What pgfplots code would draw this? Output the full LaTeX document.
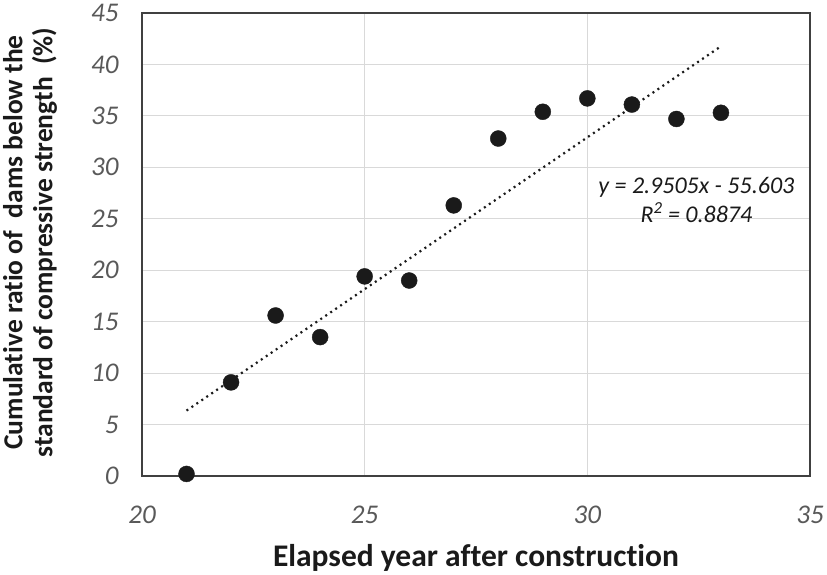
\documentclass[border=0pt]{standalone}
\usepackage{pgfplots}
\pgfplotsset{compat=1.18}
\usepackage{fontspec}
\setmainfont{Carlito}[Ligatures=NoCommon]
\definecolor{tickgray}{HTML}{595959}
\definecolor{gridgray}{HTML}{D9D9D9}
\definecolor{boxgray}{HTML}{404040}
\definecolor{ptblack}{HTML}{1A1A1A}
\begin{document}
\begin{tikzpicture}
\useasboundingbox (-142bp,-99bp) rectangle (685bp,476bp);
\begin{axis}[
  at={(0,0)}, anchor=south west,
  scale only axis,
  width=668bp, height=463bp,
  xmin=20, xmax=35, ymin=0, ymax=45,
  xtick={20,25,30,35}, ytick={0,5,...,45},
  grid=major,
  major grid style={gridgray, line width=1.2bp},
  axis line style={boxgray, line width=1.4bp},
  major tick length=0pt,
  tick label style={font=\fontsize{27bp}{29bp}\selectfont\itshape, text=tickgray},
  /pgf/number format/assume math mode=true,
  xticklabel style={yshift=-26bp},
  yticklabel style={xshift=-20bp},
  xlabel={Elapsed year after construction},
  xlabel style={font=\fontsize{31.5bp}{33bp}\selectfont\bfseries, text=ptblack, yshift=-14bp},
  every axis y label/.style={at={(axis description cs:0,0.5)}, xshift=-112bp, yshift=2bp, rotate=90, anchor=center},
  ylabel={Cumulative ratio of\ \ dams below the\\standard of compressive strength\ \ (\%)},
  ylabel style={font=\fontsize{27.5bp}{30bp}\selectfont\bfseries, text=ptblack, align=center},
]
\addplot[only marks, mark=*, mark size=8bp, mark options={fill=ptblack, draw=ptblack}] coordinates {
(21,0.2) (22,9.1) (23,15.6) (24,13.5) (25,19.4) (26,19.0) (27,26.3)
(28,32.8) (29,35.4) (30,36.7) (31,36.1) (32,34.7) (33,35.3)
};
\addplot[draw=ptblack, line width=2.2bp, dash pattern=on 2bp off 4bp] coordinates {
(21,6.3575) (33,41.7635)
};
\node[font=\fontsize{24bp}{29bp}\selectfont\itshape, text=ptblack, align=center] at (axis cs:32.45,26.8) {y = 2.9505x - 55.603\\R\textsuperscript{2} = 0.8874};
\end{axis}
\end{tikzpicture}
\end{document}
